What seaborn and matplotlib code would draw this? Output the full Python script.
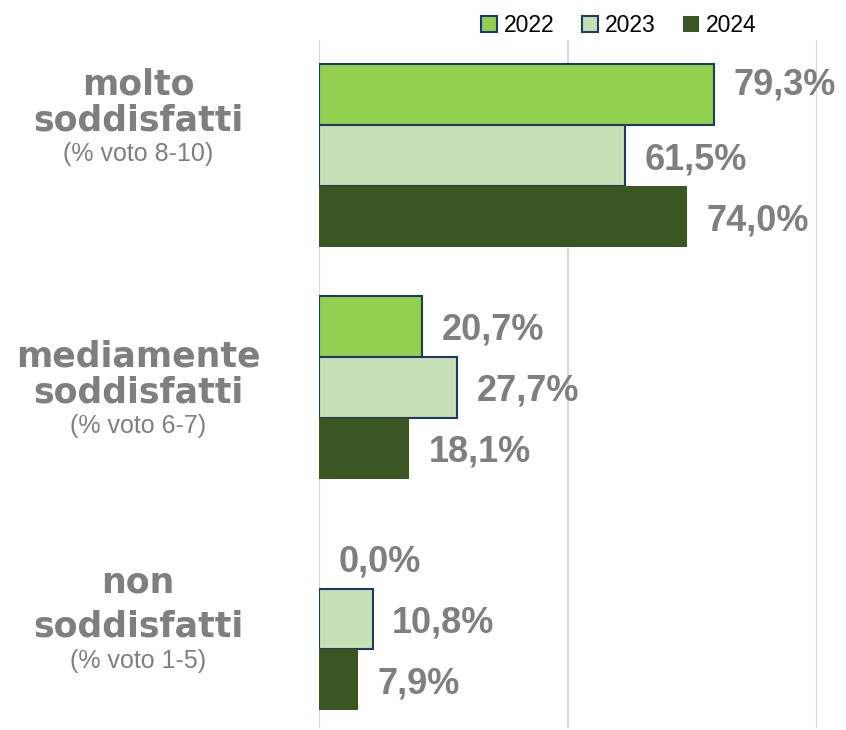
import numpy as np
import pandas as pd
import matplotlib.pyplot as plt
import matplotlib.transforms as mtransforms
from matplotlib.patches import Patch
import seaborn as sns

# ─────────────────────────────────────────────
# DATI
# ─────────────────────────────────────────────
titoli = ['molto', 'mediamente', 'non']
sottotitoli = ['(% voto 8-10)', '(% voto 6-7)', '(% voto 1-5)']
anni = ['2022', '2023', '2024']
val_2022 = [79.3, 20.7, 0.0]
val_2023 = [61.5, 27.7, 10.8]
val_2024 = [74.0, 18.1, 7.9]

colori = ['#92D050', '#C5E0B4', '#3A5623']
BORDO = '#1F3864'
GRIGIO = '#7F7F7F'

df = pd.DataFrame({
    'categoria': titoli * 3,
    'anno': np.repeat(anni, 3),
    'pct': val_2022 + val_2023 + val_2024,
})

sns.set_style('white')
plt.rcParams['font.family'] = ['Liberation Sans', 'DejaVu Sans']

fig = plt.figure(figsize=(8.46, 7.3), dpi=100)
ax = fig.add_axes([0.377, 0.003, 0.5887, 0.942])

sns.barplot(data=df, x='pct', y='categoria', hue='anno', orient='h',
            palette=colori, width=0.79, gap=0, ax=ax, legend=False,
            saturation=1)

# bordi blu per 2022 e 2023, nessun bordo per il 2024
for i, cont in enumerate(ax.containers):
    for p in cont:
        if i < 2 and p.get_width() > 0:
            p.set_edgecolor(BORDO)
            p.set_linewidth(1.5)
        else:
            p.set_edgecolor('none')
            p.set_linewidth(0)
    etichette = [f"{v:.1f}%".replace('.', ',') for v in cont.datavalues]
    testi = ax.bar_label(cont, labels=etichette, padding=14, fontsize=26,
                         fontweight='bold', color=GRIGIO)
    for t in testi:
        t.set_va('center_baseline')
    if i == 0:
        # nell'originale l'etichetta 79,3% e' spostata un po' in alto
        testi[0].xyann = (14, 10)

ax.set_xlim(0, 100)
ax.set_ylim(2.47, -0.5)
ax.set_xticks([0, 50, 100])
ax.set_xticklabels([])
ax.set_yticks([])
ax.set_xlabel('')
ax.set_ylabel('')
ax.grid(axis='x', color='#D9D9D9', linewidth=1.5)
ax.tick_params(length=0)
for s in ax.spines.values():
    s.set_visible(False)

# etichette delle categorie a sinistra (offset in pixel dal centro del gruppo)
offset = [(-62, -25, 5), (-21, 15, 46), (-27, 18, 49)]
trans = mtransforms.blended_transform_factory(fig.transFigure, ax.transData)
for i, (t, sub) in enumerate(zip(titoli, sottotitoli)):
    o1, o2, o3 = offset[i]
    ax.text(0.163, i + o1 / 232, t, transform=trans, ha='center', va='baseline',
            fontsize=25, fontweight='bold', color=GRIGIO, family='DejaVu Sans')
    ax.text(0.163, i + o2 / 232, 'soddisfatti', transform=trans, ha='center',
            va='baseline', fontsize=25, fontweight='bold', color=GRIGIO,
            family='DejaVu Sans')
    ax.text(0.163, i + o3 / 232, sub, transform=trans, ha='center',
            va='baseline', fontsize=18, color=GRIGIO)

# legenda
handles = [Patch(facecolor=colori[0], edgecolor=BORDO, linewidth=1.5),
           Patch(facecolor=colori[1], edgecolor=BORDO, linewidth=1.5),
           Patch(facecolor=colori[2], edgecolor='none')]
fig.legend(handles, anni, loc='center', bbox_to_anchor=(0.731, 0.965), ncol=3,
           frameon=False, fontsize=16.5, handlelength=0.7, handleheight=0.7,
           handletextpad=0.3, columnspacing=1.2, labelcolor='black')

fig.savefig('out.png', dpi=100)
